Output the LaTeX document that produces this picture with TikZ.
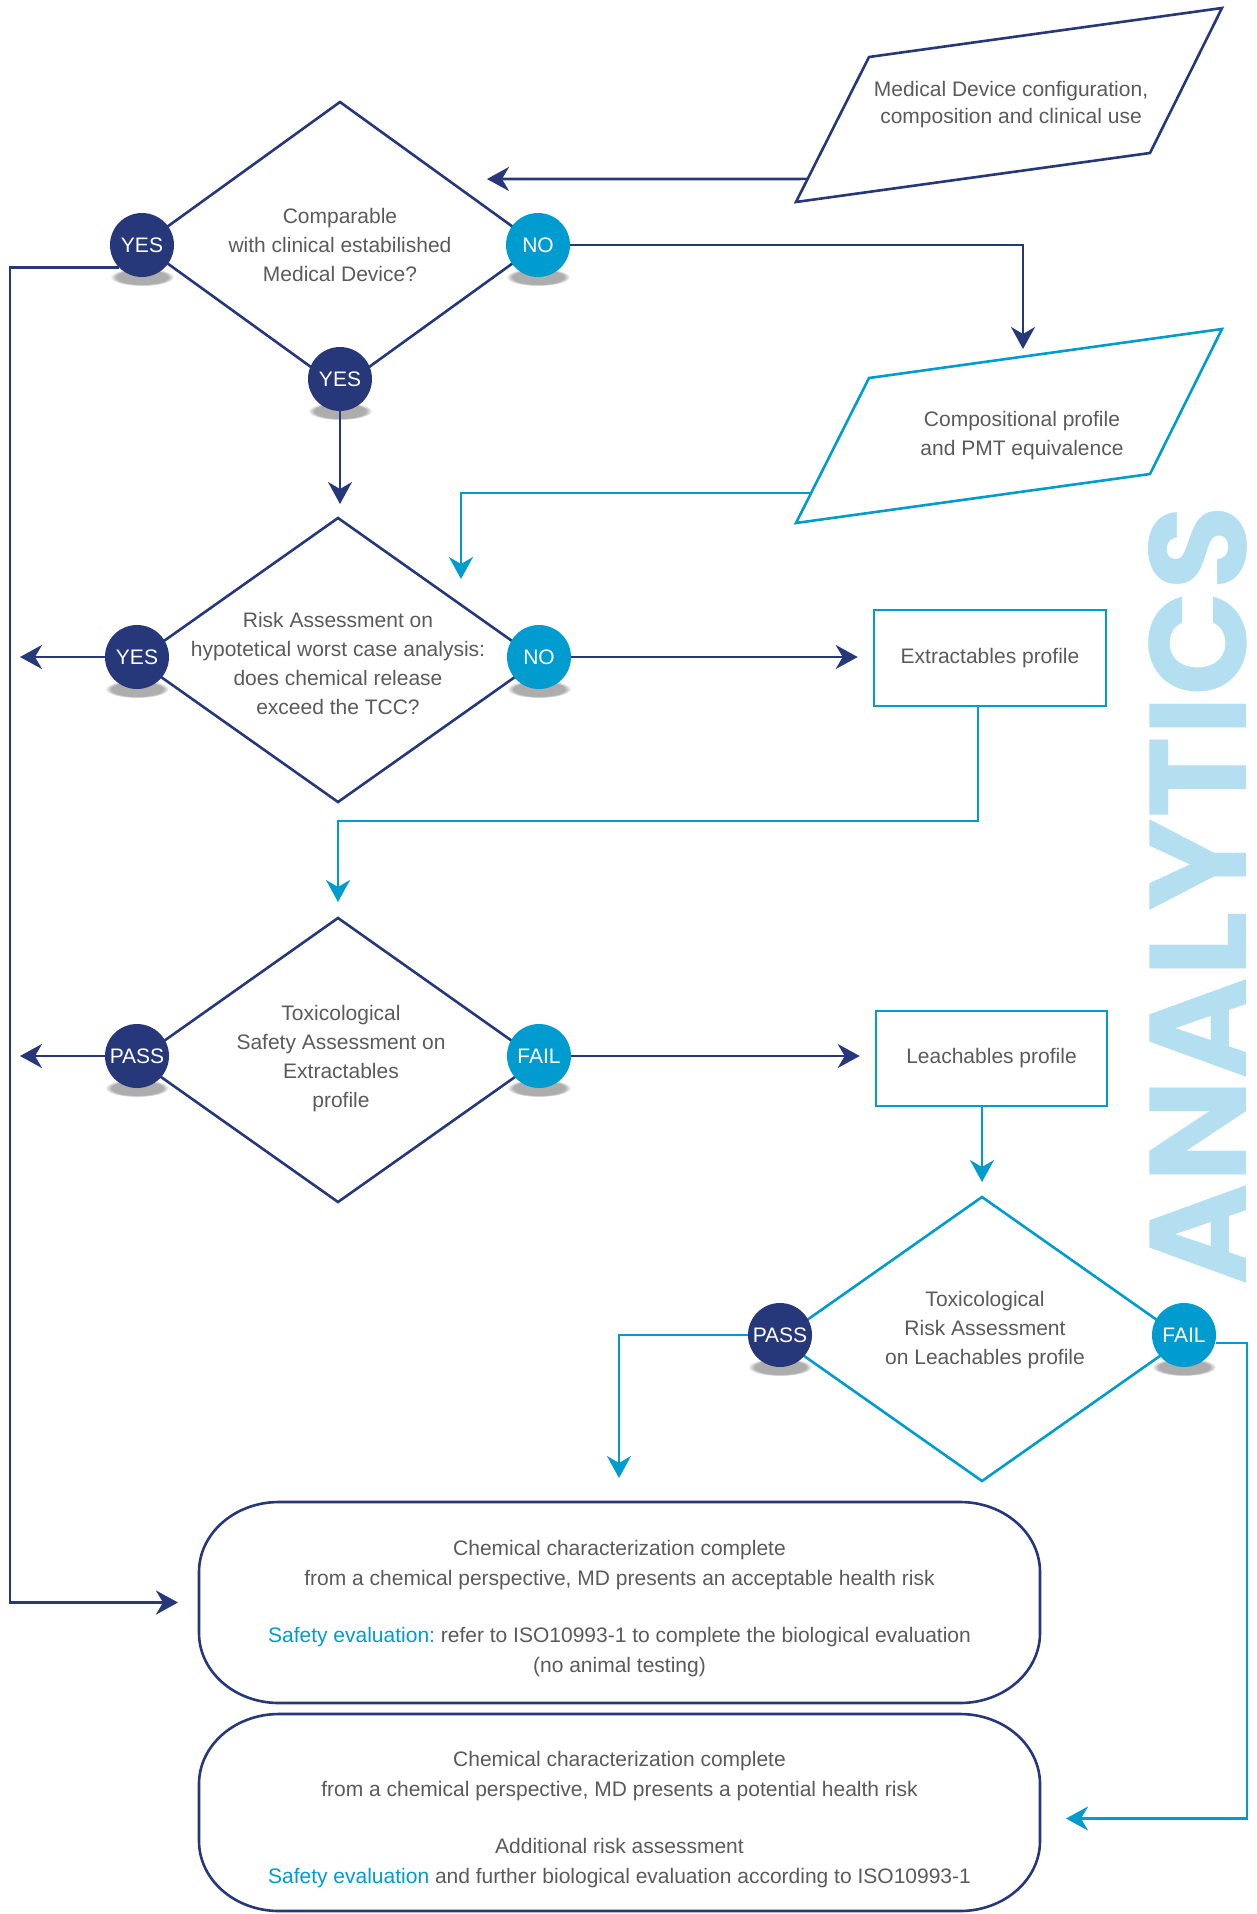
\documentclass[tikz,border=0pt]{standalone}
\usepackage{graphicx}
\usepackage{fontspec}
\setmainfont{Liberation Sans}
\newfontfamily\anfont{Poppins}
\usetikzlibrary{arrows.meta,calc,shapes.geometric,fadings}
\definecolor{navy}{HTML}{26377A}
\definecolor{cyanb}{HTML}{009BCF}
\definecolor{lightb}{HTML}{B3DFF0}
\definecolor{txt}{HTML}{5A5A5A}
\pgfdeclarelayer{bg}
\pgfsetlayers{bg,main}
\frenchspacing
\newcommand\pillframe[1]{%
  \draw[nline] ([xshift=80pt]#1.north west) -- ([xshift=-80pt]#1.north east)
    arc[start angle=90,end angle=0,x radius=80pt,y radius=70pt]
    -- ([yshift=70pt]#1.south east)
    arc[start angle=0,end angle=-90,x radius=80pt,y radius=70pt]
    -- ([xshift=80pt]#1.south west)
    arc[start angle=270,end angle=180,x radius=80pt,y radius=70pt]
    -- ([yshift=-70pt]#1.north west)
    arc[start angle=180,end angle=90,x radius=80pt,y radius=70pt] -- cycle;}
\begin{document}
\begin{tikzpicture}[x=1pt,y=1pt,
  txtnode/.style={align=center, text=txt, font=\fontsize{21}{29}\selectfont, inner sep=0pt},
  badge/.style={circle, minimum size=64pt, inner sep=0pt, text=white, font=\fontsize{21}{21}\selectfont},
  nb/.style={badge, fill=navy},
  cb/.style={badge, fill=cyanb},
  nline/.style={draw=navy, line width=2.6pt},
  cline/.style={draw=cyanb, line width=2.6pt},
  arr/.style={-{Stealth[length=22pt,width=24pt,inset=7pt]}},
  dmd/.style={diamond, inner sep=0pt, outer sep=0pt},
]
\useasboundingbox (0,0) rectangle (1256,-1914);

% watermark
\node[rotate=90, text=lightb, inner sep=0pt] (an) at (1198,-895.5)
  {\resizebox{779pt}{98pt}{\anfont\bfseries ANALYTICS}};

% parallelograms
\coordinate (p1a) at (869,-57);  \coordinate (p1b) at (1222,-8);
\coordinate (p1c) at (1150,-153); \coordinate (p1d) at (796,-202);
\draw[nline] (p1a) -- (p1b) -- (p1c) -- (p1d) -- cycle;
\node[txtnode, font=\fontsize{21}{27}\selectfont] (p1) at (1011,-105) {Medical Device configuration,\\composition and clinical use};

\coordinate (p2a) at (869,-378);  \coordinate (p2b) at (1222,-329);
\coordinate (p2c) at (1150,-474); \coordinate (p2d) at (796,-523);
\draw[cline] (p2a) -- (p2b) -- (p2c) -- (p2d) -- cycle;
\node[txtnode] (p2) at (1022,-436) {Compositional profile\\and PMT equivalence};

% diamonds
\node[dmd, nline, minimum width=396pt, minimum height=286pt] (D1) at (340,-245) {};
\node[dmd, nline, minimum width=402pt, minimum height=284pt] (D2) at (338,-660) {};
\node[dmd, nline, minimum width=402pt, minimum height=284pt] (D3) at (338,-1060) {};
\node[dmd, cline, minimum width=404pt, minimum height=284pt] (D4) at (982,-1339) {};

\node[txtnode] (t1) at (340,-245) {Comparable\\with clinical estabilished\\Medical Device?};
\node[txtnode] (t2) at (338,-663) {Risk Assessment on\\hypotetical worst case analysis:\\does chemical release\\exceed the TCC?};
\node[txtnode] (t3) at (341,-1059) {Toxicological\\Safety Assessment on\\Extractables\\profile};
\node[txtnode] (t4) at (985,-1330) {Toxicological\\Risk Assessment\\on Leachables profile};

% boxes
\node[txtnode, cline, minimum width=232pt, minimum height=96pt] (ext) at (990,-658) {\raisebox{2pt}{Extractables profile}};
\node[txtnode, cline, minimum width=231pt, minimum height=95pt] (leach) at (991.5,-1058.5) {\raisebox{2pt}{Leachables profile}};

\node[txtnode, font=\fontsize{21}{30}\selectfont, outer sep=0pt, minimum width=841pt, minimum height=201pt] (B1) at (619.5,-1602.5)
 {\\[-2pt]Chemical characterization complete\\
  from a chemical perspective, MD presents an acceptable health risk\\[27pt]
  {\color{cyanb}Safety evaluation:} refer to ISO10993-1 to complete the biological evaluation\\
  (no animal testing)};
\node[txtnode, font=\fontsize{21}{30}\selectfont, outer sep=0pt, minimum width=841pt, minimum height=197pt] (B2) at (619.5,-1812.5)
 {\\[0pt]Chemical characterization complete\\
  from a chemical perspective, MD presents a potential health risk\\[27pt]
  Additional risk assessment\\
  {\color{cyanb}Safety evaluation} and further biological evaluation according to ISO10993-1};
\pillframe{B1}
\pillframe{B2}

% badges
\node[nb] (y1)  at (D1.west) {YES};
\node[cb] (n1)  at (D1.east) {NO};
\node[nb] (y1b) at ([yshift=9pt]D1.south) {YES};
\node[nb] (y2)  at ([yshift=3pt]D2.west) {YES};
\node[cb] (n2)  at ([yshift=3pt]D2.east) {NO};
\node[nb] (p3)  at ([yshift=4pt]D3.west) {PASS};
\node[cb] (f3)  at ([yshift=4pt]D3.east) {FAIL};
\node[nb] (p4)  at ([yshift=4pt]D4.west) {PASS};
\node[cb] (f4)  at ([yshift=4pt]D4.east) {FAIL};

\begin{pgfonlayer}{bg}
\foreach \c in {y1,n1,y1b,y2,n2,p3,f3,p4,f4}{
  \fill[black, opacity=.32, path fading=circle with fuzzy edge 20 percent]
    ($(\c.center)+(0,-32)$) ellipse[x radius=32pt, y radius=9pt];
}
\end{pgfonlayer}

% free-end coordinates
\coordinate (d1in) at (487,-179);
\coordinate (rail) at (10,0);
\coordinate (lft) at (20,0);
\coordinate (p2in) at (1023,-349);
\coordinate (p1out) at ($(p1d)!0.159!(p1a)$);
\coordinate (p2out) at ($(p2d)!0.207!(p2a)$);
\coordinate (d2in) at (461,-579);
\coordinate (mid3) at (338,-821);
\coordinate (b1in) at (619,-1478);
\coordinate (rail2) at (1247,0);
\coordinate (d2top) at ([yshift=14pt]D2.north);

% connectors
\draw[nline,arr] (p1out) -- (d1in);
\draw[nline,arr] (y1.south west) -- (y1.south west -| rail) |- ([xshift=-21pt]B1.west);
\draw[nline,arr] (n1.east) -| (p2in);
\draw[nline,arr] (y1b.south) -- (y1b.south |- d2top);
\draw[cline,arr] (p2out) -| (d2in);
\draw[nline,arr] (y2.west) -- (y2.west -| lft);
\draw[nline,arr] (n2.east) -- ($(n2.east -| ext.west)+(-15,0)$);
\draw[cline,arr] ([xshift=-12pt]ext.south) |- (mid3) -- ([yshift=16pt]D3.north);
\draw[nline,arr] (p3.west) -- (p3.west -| lft);
\draw[nline,arr] (f3.east) -- ($(f3.east -| leach.west)+(-15,0)$);
\draw[cline,arr] (leach.south -| D4.north) -- ([yshift=15pt]D4.north);
\draw[cline,arr] (p4.west) -| (b1in);
\draw[cline,arr] ([yshift=-8pt]f4.east) -- ([yshift=-8pt]f4.east -| rail2) |- ([xshift=26pt,yshift=-6pt]B2.east);
\end{tikzpicture}
\end{document}
